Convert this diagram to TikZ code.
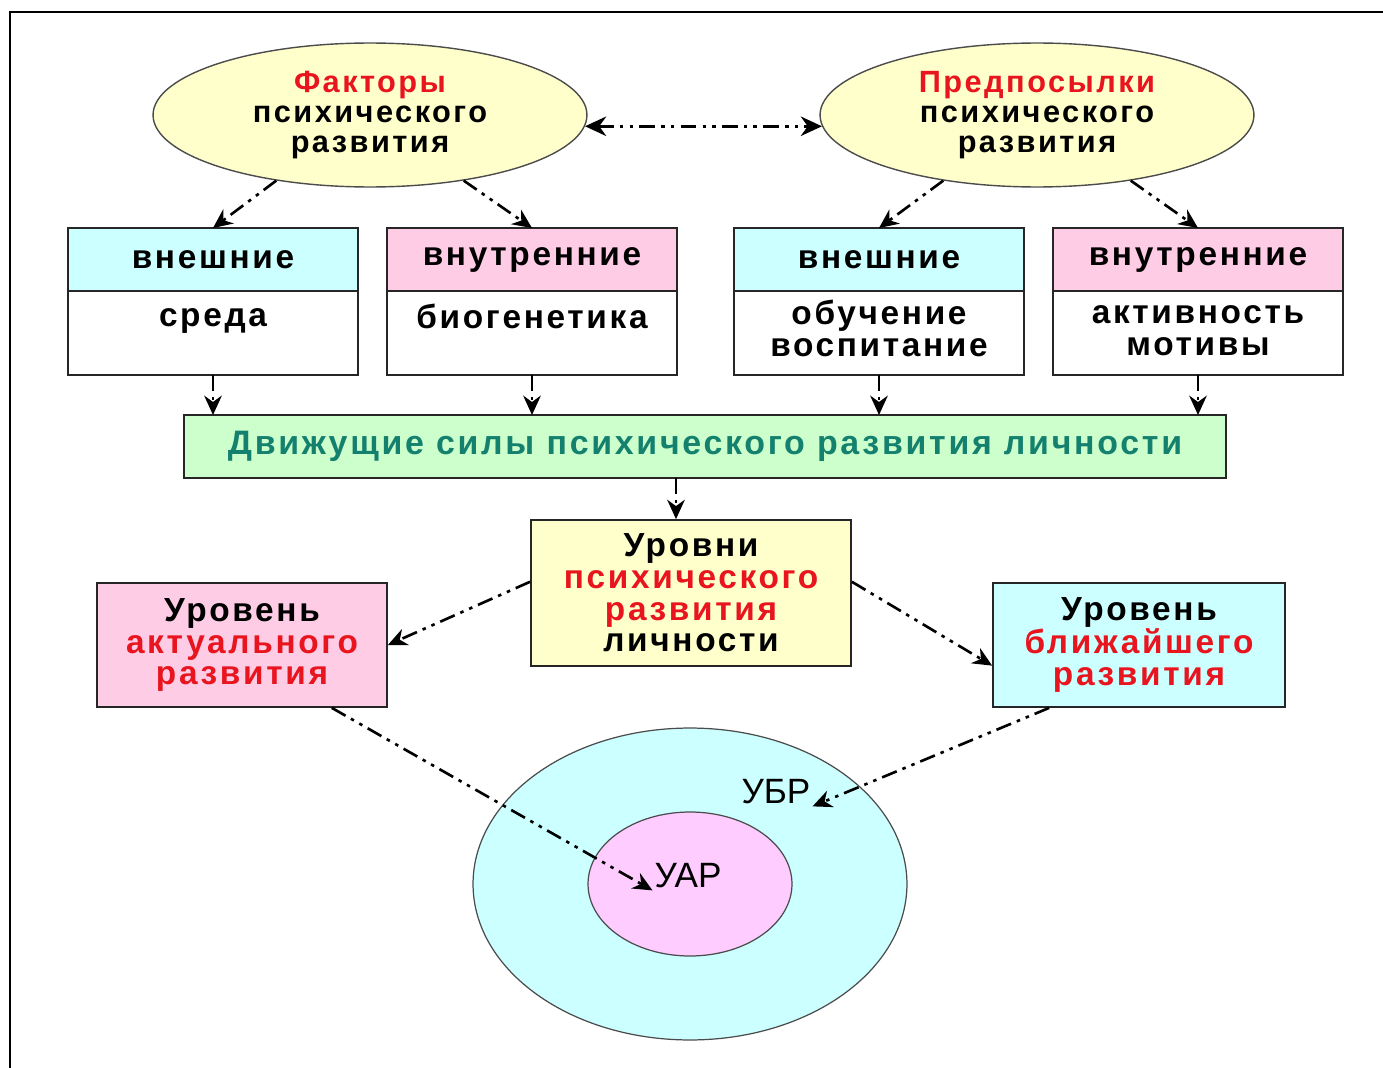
\documentclass[tikz,border=0pt]{standalone}
\usepackage{fontspec}
\setmainfont{Liberation Sans}[LetterSpace=8]
\newfontfamily\plainsans{Liberation Sans}
\usetikzlibrary{shapes.geometric, positioning, calc, arrows.meta}
\definecolor{boxyellow}{HTML}{FFFFCC}
\definecolor{boxcyan}{HTML}{CCFFFF}
\definecolor{boxpink}{HTML}{FFCCE6}
\definecolor{boxgreen}{HTML}{CCFFCC}
\definecolor{circpink}{HTML}{FFCCFF}
\definecolor{txtred}{HTML}{E8141E}
\definecolor{txtteal}{HTML}{14806E}

\begin{document}
\begin{tikzpicture}[x=0.02cm, y=-0.02cm]
        \tikzstyle{oval}=[draw=black!70, ellipse, fill=boxyellow, line width=0.8pt, minimum width=8.68cm, minimum height=2.88cm, align=center, font=\fontsize{17.5}{17}\selectfont\bfseries];
        \tikzstyle{head}=[draw=black!85, rectangle, line width=1pt, minimum width=5.8cm, minimum height=1.26cm, outer sep=0pt, font=\fontsize{19}{18}\selectfont\bfseries];
        \tikzstyle{body}=[head, fill=white, minimum height=1.68cm, align=center];
        \tikzstyle{level}=[draw=black!85, rectangle, line width=1pt, minimum width=5.8cm, minimum height=2.48cm, align=center, font=\fontsize{19}{18}\selectfont\bfseries];
        \tikzstyle{flow}=[-{Stealth[length=11pt, width=10pt]}, line width=1.5pt, dash pattern=on 9pt off 3.5pt on 2pt off 3.5pt on 2pt off 3.5pt];
        \tikzstyle{abbr}=[inner sep=1pt, font=\plainsans\fontsize{20}{20}\selectfont];

        \useasboundingbox (0,0) rectangle (1383,1068);
        \draw[line width=1.2pt] (1383,12) -- (10,12) -- (10,1068);

        \node[oval] (factors) at (370,115) {\textcolor{txtred}{Факторы}\\психического\\развития};
        \node[oval] (premises) at (1037,115) {\textcolor{txtred}{Предпосылки}\\психического\\развития};

        \node[head, fill=boxcyan] (ext1) at (213,259.5) {внешние};
        \node[body, below=0pt of ext1] (env) {\raisebox{-3pt}{среда}\strut\\\strut};
        \node[head, fill=boxpink] (int1) at (532,259.5) {внутренние};
        \node[body, below=0pt of int1] (biogen) {\raisebox{-3pt}{биогенетика}\strut\\\strut};
        \node[head, fill=boxcyan] (ext2) at (879,259.5) {внешние};
        \node[body, below=0pt of ext2] (teach) {обучение\strut\\воспитание\strut};
        \node[head, fill=boxpink] (int2) at (1198,259.5) {внутренние};
        \node[body, below=0pt of int2] (activ) {активность\strut\\мотивы\strut};

        \node[head, fill=boxgreen, minimum width=20.84cm, text=txtteal, font=\fontsize{19.3}{18}\selectfont\bfseries] (forces) at (705,446.5) {Движущие силы психического развития личности};

        \node[level, fill=boxyellow, minimum width=6.4cm, minimum height=2.92cm] (levels) at (691,593) {Уровни\\\textcolor{txtred}{психического}\\\textcolor{txtred}{развития}\\личности};
        \node[level, fill=boxpink] (actual) at (242,645) {Уровень\\\textcolor{txtred}{актуального}\\\textcolor{txtred}{развития}};
        \node[level, fill=boxcyan, minimum width=5.84cm] (nearest) at (1139,645) {Уровень\\\textcolor{txtred}{ближайшего}\\\textcolor{txtred}{развития}};

        \node[ellipse, draw=black!70, line width=0.7pt, fill=boxcyan, minimum width=8.68cm, minimum height=6.24cm] (zone) at (690,884) {};
        \node[ellipse, draw=black!70, line width=0.7pt, fill=circpink, minimum width=4.08cm, minimum height=2.88cm] (core) at (690,884) {};
        \node[abbr] (uar) at (688,876) {УАР};
        \node[abbr] (ubr) at (776,792) {УБР};

        \draw[flow, {Stealth[length=12pt, width=11pt]}-{Stealth[length=12pt, width=11pt]}, line width=2pt] (factors.-3) -- (premises.183);

        \path[flow]
        (factors.215) edge (ext1.north)
        (factors.325) edge (int1.north)
        (premises.215) edge (ext2.north)
        (premises.325) edge (int2.north)
        (env.south) edge (env.south |- forces.north)
        (biogen.south) edge (biogen.south |- forces.north)
        (teach.south) edge (teach.south |- forces.north)
        (activ.south) edge (activ.south |- forces.north)
        ([xshift=-0.3cm]forces.south -| levels.north) edge ([xshift=-0.3cm]levels.north)
        (levels.176) edge (actual.east)
        (levels.4) edge (nearest.188)
        (actual.-35) edge (uar.south west)
        (nearest.215) edge (ubr.south east);
      \end{tikzpicture}
\end{document}
